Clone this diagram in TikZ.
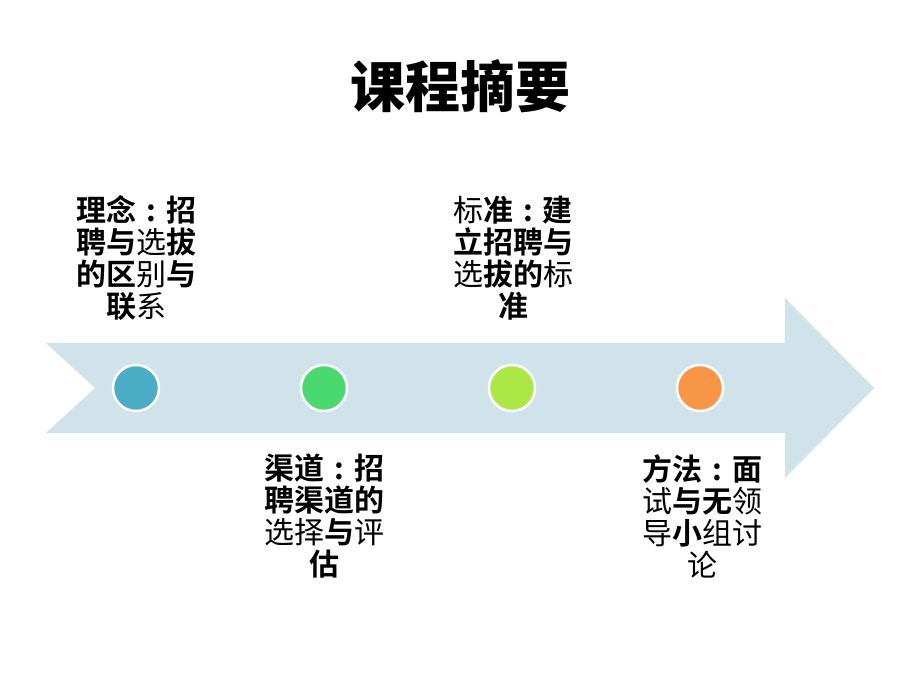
\documentclass[tikz,border=0pt]{standalone}
\usepackage{fontspec}
\setmainfont{Noto Sans CJK SC}
\newfontfamily\cjk{Noto Sans CJK SC}
\newfontfamily\cjkb{Noto Sans CJK SC Bold}
\newfontfamily\cjkt{Noto Sans CJK SC Black}
\definecolor{arrowfill}{HTML}{D0E3EA}
\definecolor{cA}{HTML}{4BACC6}
\definecolor{cB}{HTML}{4AD870}
\definecolor{cC}{HTML}{ACE845}
\definecolor{cD}{HTML}{F79646}
\newcommand{\rg}[1]{{\cjk #1}}
\newcommand{\cc}{\makebox[1em][c]{:}}
\begin{document}
\begin{tikzpicture}[x=1pt,y=-1pt,
  dot/.style={circle,draw=white,line width=2.5pt,minimum size=46pt,inner sep=0pt},
  lbl/.style={align=center,font=\cjkb\fontsize{30}{32}\selectfont,text=black,inner sep=0pt}]
\useasboundingbox (0,0) rectangle (920,690);
\fill[white] (0,0) rectangle (920,690);
\node[font=\cjkt\fontsize{55}{60}\selectfont] (title) at (460,86) {课程摘要};
\fill[arrowfill] (46,343) -- (785,343) -- (785,298) -- (874,388) -- (785,478) -- (785,433) -- (46,433) -- (95,388) -- cycle;
\node[dot,fill=cA] (d1) at (136,388) {};
\node[dot,fill=cB] (d2) at (324,388) {};
\node[dot,fill=cC] (d3) at (512,388) {};
\node[dot,fill=cD] (d4) at (700,388) {};
\node[lbl] (t1) at (136,258) {理念\cc 招\\聘与\rg{选}拔\\的区\rg{别}与\\联\rg{系}};
\node[lbl] (t3) at (513,258) {\rg{标}准\cc 建\\立招聘与\\\rg{选}拔的\rg{标}\\准};
\node[lbl] (t2) at (324,516) {渠道\cc 招\\聘渠道的\\\rg{选择}与\rg{评}\\估};
\node[lbl] (t4) at (702,516) {方法\cc 面\\\rg{试}与无\rg{领}\\\rg{导}小\rg{组讨}\\\rg{论}};
\end{tikzpicture}
\end{document}
